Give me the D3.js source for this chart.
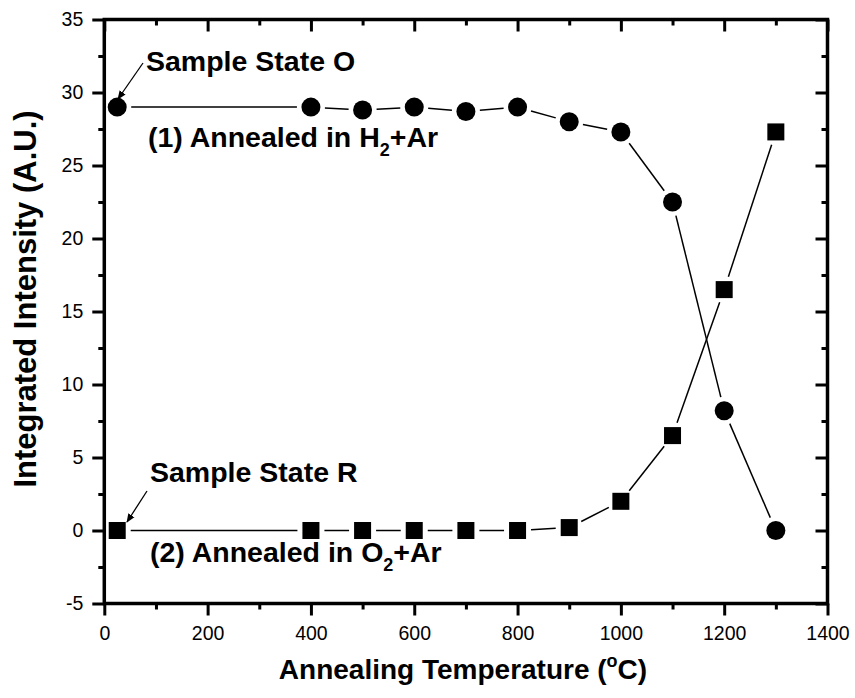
<!DOCTYPE html>
<html>
<head>
<meta charset="utf-8">
<script src="https://cdn.jsdelivr.net/npm/d3@7"></script>
<style>
  html, body { margin: 0; padding: 0; background: #fff; }
  svg { display: block; font-family: Arial, "Liberation Sans", sans-serif; }
</style>
</head>
<body>
<svg id="chart" width="855" height="698"></svg>
<script>
// Annealing temperature (°C) of each measurement
const temperatures = [25, 400, 500, 600, 700, 800, 900, 1000, 1100, 1200, 1300];
// (1) annealed in H2+Ar, circles
const h2ArIntensity = [29, 29, 28.8, 29, 28.7, 29, 28, 27.3, 22.5, 8.2, 0];
// (2) annealed in O2+Ar, squares
const o2ArIntensity = [0, 0, 0, 0, 0, 0, 0.2, 2, 6.5, 16.5, 27.3];

const xTicks = [0, 200, 400, 600, 800, 1000, 1200, 1400];
const yTicks = [-5, 0, 5, 10, 15, 20, 25, 30, 35];

const svg = d3.select("#chart");
const plotLeft = 104.3, plotRight = 827.5, plotTop = 19.5, plotBottom = 603.5;

const x = d3.scaleLinear().domain([0, 1400]).range([plotLeft, plotRight]);
const y = d3.scaleLinear().domain([-5, 35]).range([plotBottom, plotTop]);

const xMinor = d3.range(100, 1400, 200);
const yMinor = d3.range(-2.5, 35, 5);
const plainNumber = d => String(d); // keeps an ASCII hyphen for negatives

// Connecting lines with a small gap at each marker
function gappedSegments(xs, ys, gap) {
  const segs = [];
  for (let i = 0; i < xs.length - 1; i++) {
    const x1 = x(xs[i]), y1 = y(ys[i]), x2 = x(xs[i + 1]), y2 = y(ys[i + 1]);
    const dx = x2 - x1, dy = y2 - y1, len = Math.hypot(dx, dy);
    if (len <= 2 * gap) continue;
    const ux = dx / len, uy = dy / len;
    segs.push([x1 + ux * gap, y1 + uy * gap, x2 - ux * gap, y2 - uy * gap]);
  }
  return segs;
}

const lineG = svg.append("g").attr("stroke", "#000").attr("stroke-width", 1.5);
[[h2ArIntensity, 14], [o2ArIntensity, 13.5]].forEach(([vals, gap]) => {
  lineG.append("g").selectAll("line")
    .data(gappedSegments(temperatures, vals, gap))
    .join("line")
    .attr("x1", d => d[0]).attr("y1", d => d[1])
    .attr("x2", d => d[2]).attr("y2", d => d[3]);
});

// Markers
svg.append("g").selectAll("circle")
  .data(temperatures.map((t, i) => [t, h2ArIntensity[i]]))
  .join("circle")
  .attr("cx", d => x(d[0])).attr("cy", d => y(d[1]))
  .attr("r", 9.5).attr("fill", "#000");

const sq = 17;
svg.append("g").selectAll("rect")
  .data(temperatures.map((t, i) => [t, o2ArIntensity[i]]))
  .join("rect")
  .attr("x", d => x(d[0]) - sq / 2).attr("y", d => y(d[1]) - sq / 2)
  .attr("width", sq).attr("height", sq).attr("fill", "#000");

// Axes: outward ticks bottom/left, inward ticks top/right
const axisW = 3.5;
function styleAxis(g) {
  g.select(".domain").remove();
  g.selectAll(".tick line").attr("stroke", "#000").attr("stroke-width", 3);
  g.selectAll(".tick text").attr("fill", "#000").attr("font-size", 19.5)
    .attr("font-family", "Arial, 'Liberation Sans', sans-serif");
}

svg.append("g").attr("transform", `translate(0,${plotBottom})`)
  .call(d3.axisBottom(x).tickValues(xTicks).tickFormat(plainNumber).tickSize(12).tickPadding(11))
  .call(styleAxis);
svg.append("g").attr("transform", `translate(0,${plotBottom})`)
  .call(d3.axisBottom(x).tickValues(xMinor).tickFormat("").tickSize(6))
  .call(styleAxis);

svg.append("g").attr("transform", `translate(0,${plotTop})`)
  .call(d3.axisBottom(x).tickValues(xTicks).tickFormat("").tickSize(12))
  .call(styleAxis);
svg.append("g").attr("transform", `translate(0,${plotTop})`)
  .call(d3.axisBottom(x).tickValues(xMinor).tickFormat("").tickSize(6))
  .call(styleAxis);

svg.append("g").attr("transform", `translate(${plotLeft},0)`)
  .call(d3.axisLeft(y).tickValues(yTicks).tickFormat(plainNumber).tickSize(12).tickPadding(9))
  .call(styleAxis);
svg.append("g").attr("transform", `translate(${plotLeft},0)`)
  .call(d3.axisLeft(y).tickValues(yMinor).tickFormat("").tickSize(6))
  .call(styleAxis);

svg.append("g").attr("transform", `translate(${plotRight},0)`)
  .call(d3.axisLeft(y).tickValues(yTicks).tickFormat("").tickSize(12))
  .call(styleAxis);
svg.append("g").attr("transform", `translate(${plotRight},0)`)
  .call(d3.axisLeft(y).tickValues(yMinor).tickFormat("").tickSize(6))
  .call(styleAxis);

// Frame
svg.append("rect")
  .attr("x", plotLeft).attr("y", plotTop)
  .attr("width", plotRight - plotLeft).attr("height", plotBottom - plotTop)
  .attr("fill", "none").attr("stroke", "#000").attr("stroke-width", axisW)
  .attr("stroke-linejoin", "miter");

// Axis titles
svg.append("text")
  .attr("x", 463).attr("y", 679)
  .attr("text-anchor", "middle").attr("font-weight", "bold").attr("font-size", 28)
  .call(t => {
    t.append("tspan").text("Annealing Temperature (");
    t.append("tspan").attr("font-size", 18).attr("dy", -12).text("o");
    t.append("tspan").attr("dy", 12).text("C)");
  });

svg.append("text")
  .attr("transform", "translate(36,299) rotate(-90)")
  .attr("text-anchor", "middle").attr("font-weight", "bold").attr("font-size", 31)
  .text("Integrated Intensity (A.U.)");

// Annotations
const ann = svg.append("g").attr("font-weight", "bold").attr("font-size", 28.5).attr("fill", "#000");
ann.append("text").attr("x", 146).attr("y", 71).text("Sample State O");
ann.append("text").attr("x", 148).attr("y", 147)
  .call(t => {
    t.append("tspan").text("(1) Annealed in H");
    t.append("tspan").attr("font-size", 18).attr("dy", 9).text("2");
    t.append("tspan").attr("dy", -9).text("+Ar");
  });
ann.append("text").attr("x", 150).attr("y", 482).text("Sample State R");
ann.append("text").attr("x", 150).attr("y", 562)
  .call(t => {
    t.append("tspan").text("(2) Annealed in O");
    t.append("tspan").attr("font-size", 18).attr("dy", 9).text("2");
    t.append("tspan").attr("dy", -9).text("+Ar");
  });

// Arrows pointing at the starting samples
svg.append("defs").append("marker")
  .attr("id", "arrowHead").attr("viewBox", "0 0 10 10")
  .attr("refX", 9).attr("refY", 5)
  .attr("markerWidth", 9).attr("markerHeight", 9)
  .attr("markerUnits", "userSpaceOnUse")
  .attr("orient", "auto")
  .append("path").attr("d", "M0,1 L10,5 L0,9 z").attr("fill", "#000");

const arrows = [[143, 63, 118, 99], [147, 491, 127, 522]];
svg.append("g").selectAll("line").data(arrows).join("line")
  .attr("x1", d => d[0]).attr("y1", d => d[1])
  .attr("x2", d => d[2]).attr("y2", d => d[3])
  .attr("stroke", "#000").attr("stroke-width", 1.3)
  .attr("marker-end", "url(#arrowHead)");
</script>
</body>
</html>
